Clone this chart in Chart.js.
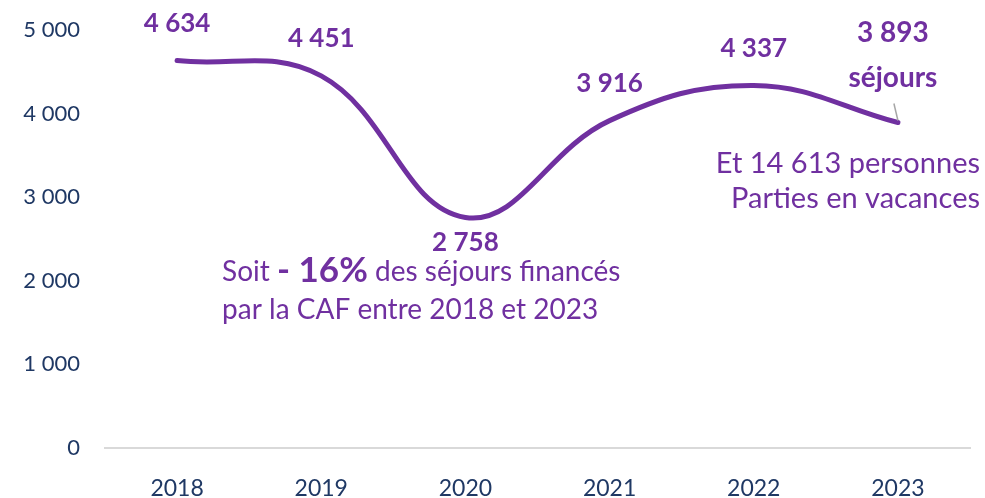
<!DOCTYPE html>
<html lang="fr">
<head>
<meta charset="utf-8">
<script src="https://cdn.jsdelivr.net/npm/chart.js@4"></script>
<style>
  html, body { margin: 0; padding: 0; background: #ffffff; }
  #zone { width: 985px; height: 498px; }
</style>
</head>
<body>
<div id="zone"><canvas id="graphique" width="985" height="498"></canvas></div>
<script>
// DONNEES DU GRAPHIQUE
const annees = ["2018", "2019", "2020", "2021", "2022", "2023"];
const sejours = [4634, 4451, 2758, 3916, 4337, 3893];
const ticksY = [0, 1000, 2000, 3000, 4000, 5000];
const texteDernier = "séjours";
const texteDroite = ["Et 14 613 personnes", "Parties en vacances"];
const texteBas = ["Soit ", "- 16%", " des séjours financés", "par la CAF entre 2018 et 2023"];

const violet = "#7030A0";
const bleu = "#1F3864";
const police = "Lato, 'Noto Sans', sans-serif";

// FORMAT "4 634"
const formater = (v) => String(v).replace(/\B(?=(\d{3})+(?!\d))/g, " ");

// ETIQUETTES ET TEXTES
const etiquettes = {
  id: "etiquettes",
  afterDatasetsDraw(chart) {
    const ctx = chart.ctx;
    const points = chart.getDatasetMeta(0).data;
    const x = chart.scales.x;
    const y = chart.scales.y;
    ctx.save();
    ctx.textAlign = "center";
    ctx.textBaseline = "middle";
    ctx.fillStyle = violet;
    points.forEach((p, i) => {
      if (i === points.length - 1) {
        ctx.font = "bold 28px " + police;
        ctx.fillText(formater(sejours[i]), p.x - 5, p.y - 90);
        ctx.fillText(texteDernier, p.x - 5, p.y - 45);
        // petit trait gris
        ctx.strokeStyle = "#A6A6A6";
        ctx.lineWidth = 1.5;
        ctx.beginPath();
        ctx.moveTo(p.x - 4, p.y - 19);
        ctx.lineTo(p.x, p.y - 2);
        ctx.stroke();
        return;
      }
      ctx.font = "bold 26px " + police;
      const dy = sejours[i] < 3000 ? 25 : -37;
      ctx.fillText(formater(sejours[i]), p.x, p.y + dy);
    });

    // texte de droite
    ctx.font = "29px " + police;
    ctx.textAlign = "right";
    ctx.fillText(texteDroite[0], chart.width - 5, y.getPixelForValue(3400));
    ctx.fillText(texteDroite[1], chart.width - 5, y.getPixelForValue(2980));

    // texte du bas
    ctx.textAlign = "left";
    let gx = x.getPixelForValue(0) + 45;
    const l1 = y.getPixelForValue(2110);
    const l2 = y.getPixelForValue(1650);
    ctx.font = "28px " + police;
    ctx.fillText(texteBas[0], gx, l1);
    gx += ctx.measureText(texteBas[0]).width;
    ctx.font = "bold 35px " + police;
    ctx.fillText(texteBas[1], gx, l1 - 1);
    gx += ctx.measureText(texteBas[1]).width;
    ctx.font = "28px " + police;
    ctx.fillText(texteBas[2], gx, l1);
    ctx.fillText(texteBas[3], x.getPixelForValue(0) + 45, l2);
    ctx.restore();
  }
};

new Chart(document.getElementById("graphique"), {
  type: "line",
  data: {
    labels: annees,
    datasets: [{
      data: sejours,
      borderColor: violet,
      borderWidth: 5,
      borderCapStyle: "round",
      tension: 0.4,
      pointRadius: 0,
      fill: false
    }]
  },
  options: {
    responsive: false,
    animation: false,
    layout: { padding: { top: 30, right: 15, left: 0, bottom: 0 } },
    plugins: { legend: { display: false }, tooltip: { enabled: false } },
    scales: {
      x: {
        offset: true,
        grid: { display: false, drawTicks: false, offset: true },
        border: { display: true, color: "#D9D9D9", width: 2 },
        ticks: { color: bleu, font: { family: police, size: 23 }, padding: 27 },
        afterFit: (s) => { s.height = 50; s.paddingLeft = 0; s.paddingRight = 0; }
      },
      y: {
        min: 0,
        max: 5000,
        afterBuildTicks: (s) => { s.ticks = ticksY.map((v) => ({ value: v })); },
        grid: { display: false, drawTicks: false },
        border: { display: false },
        ticks: {
          color: bleu,
          font: { family: police, size: 22 },
          padding: 25,
          callback: (v) => formater(v)
        },
        afterFit: (s) => { s.width = 105; s.paddingTop = 0; s.paddingBottom = 0; }
      }
    }
  },
  plugins: [etiquettes]
});
</script>
</body>
</html>
